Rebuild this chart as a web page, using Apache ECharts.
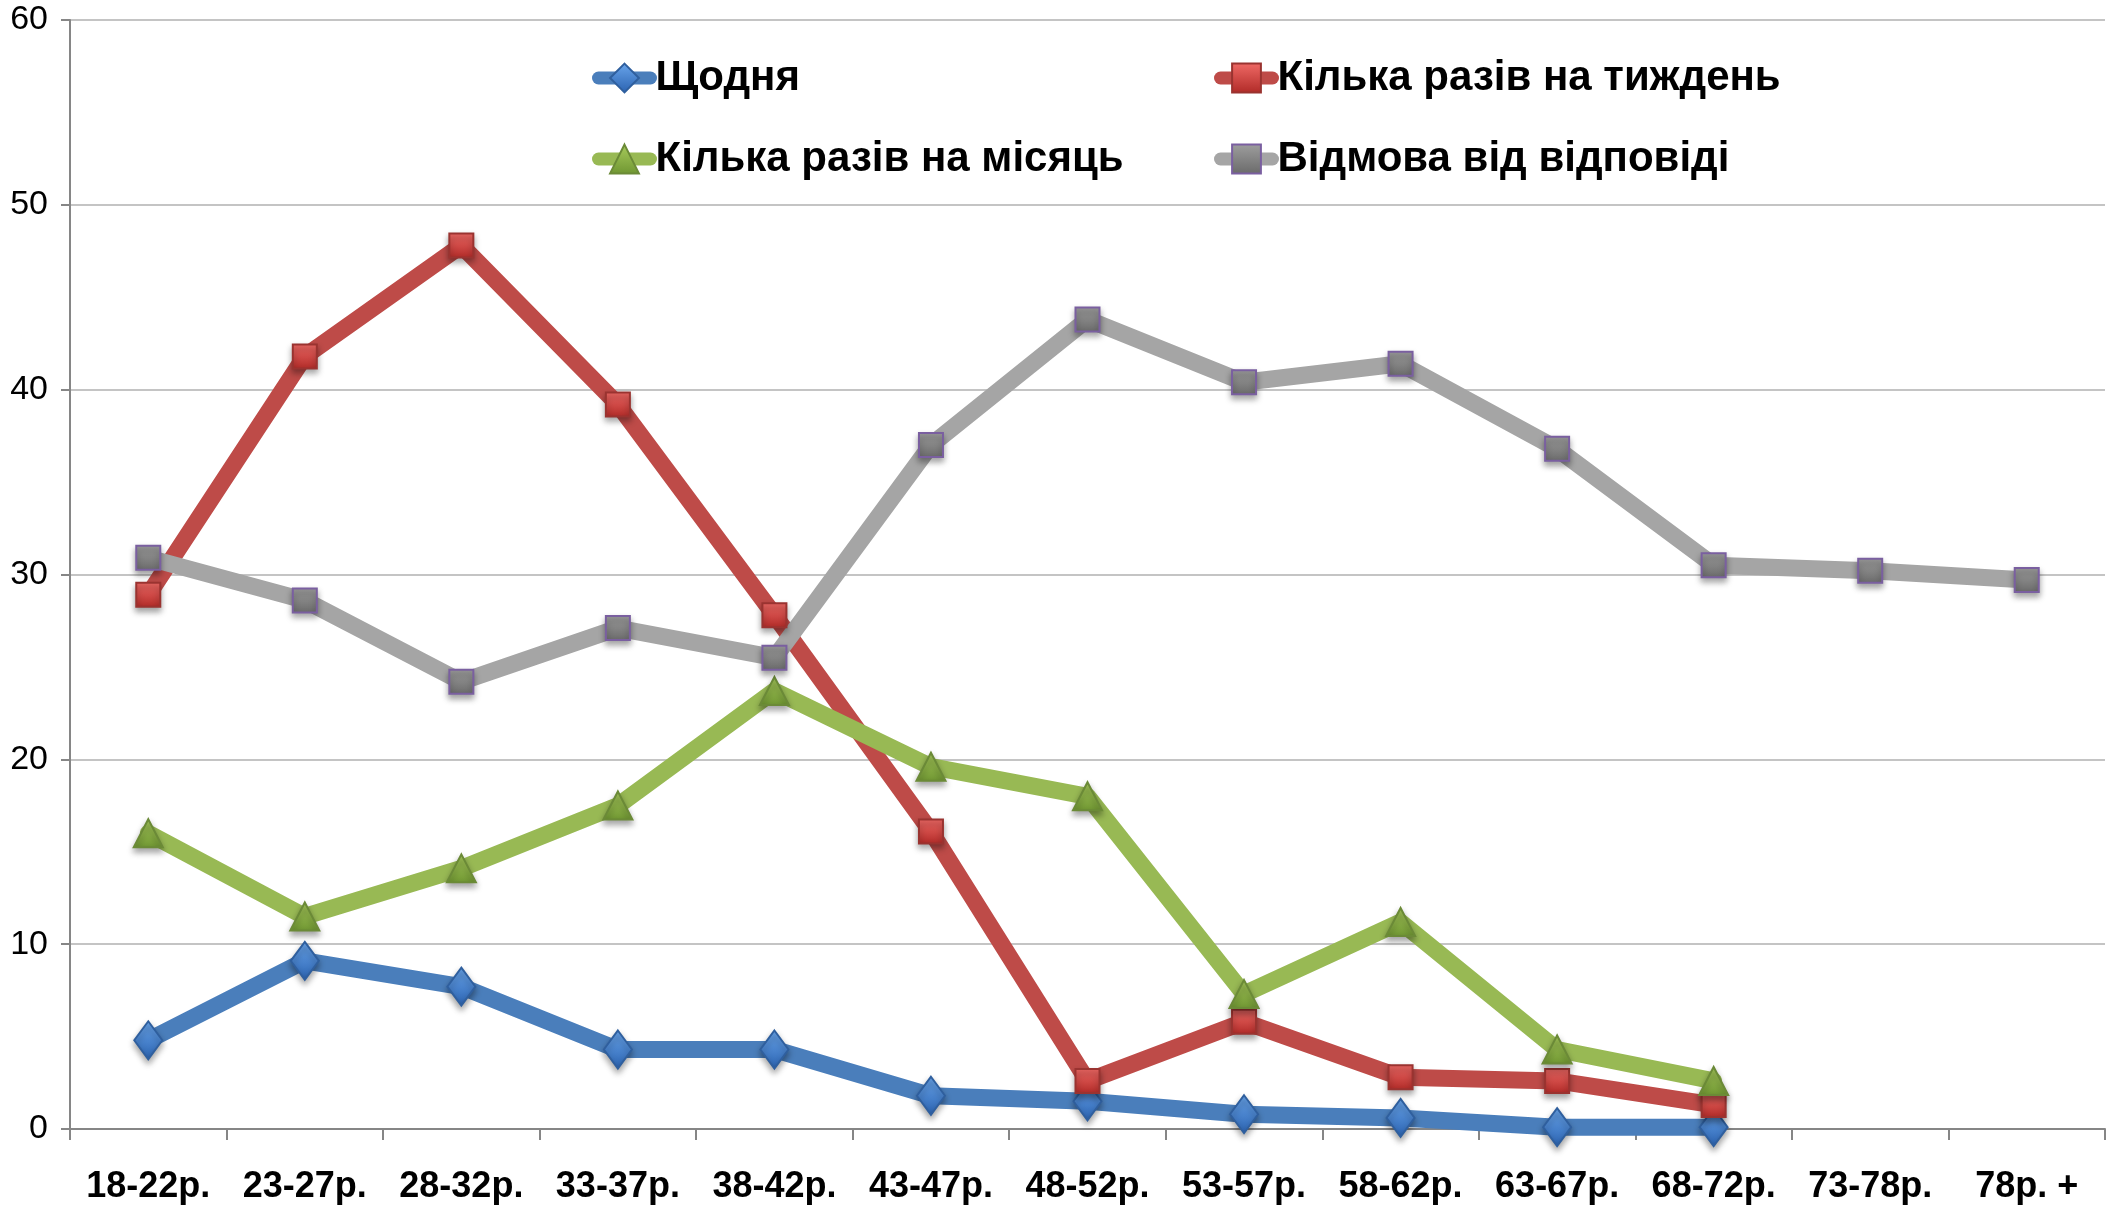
<!DOCTYPE html>
<html lang="uk">
<head>
    <meta charset="UTF-8">
    <title>Частота за віковими групами</title>
    <style>
        html, body {
            margin: 0;
            background: #fff;
        }

        #chart {
            width: 2118px;
            height: 1206px;
        }
    </style>
</head>
<body>
    <div id="chart"></div>

    <script src="https://cdn.jsdelivr.net/npm/echarts@6/dist/echarts.min.js"></script>
    <script>
        // вікові групи
        var ageGroups = ['18-22р.', '23-27р.', '28-32р.', '33-37р.', '38-42р.', '43-47р.',
            '48-52р.', '53-57р.', '58-62р.', '63-67р.', '68-72р.', '73-78р.', '78р. +'];

        var seriesNames = ['Щодня', 'Кілька разів на тиждень', 'Кілька разів на місяць', 'Відмова від відповіді'];

        // значення, %
        var daily   = [4.8, 9.1, 7.7, 4.3, 4.3, 1.8, 1.5, 0.8, 0.6, 0.1, 0.1, null, null];
        var weekly  = [28.9, 41.8, 47.8, 39.2, 27.8, 16.1, 2.6, 5.8, 2.8, 2.6, 1.3, null, null];
        var monthly = [16.0, 11.5, 14.1, 17.5, 23.7, 19.6, 18.0, 7.3, 11.2, 4.3, 2.6, null, null];
        var refused = [30.9, 28.6, 24.2, 27.1, 25.5, 37.0, 43.8, 40.4, 41.4, 36.8, 30.5, 30.2, 29.7];

        var yTicks = [0, 10, 20, 30, 40, 50, 60];

        var FONT = '"Liberation Sans", Arial, sans-serif';

        var myChart = echarts.init(document.getElementById('chart'));

        function grad(top, bottom) {
            return new echarts.graphic.LinearGradient(0, 0, 0, 1, [
                { offset: 0, color: top },
                { offset: 1, color: bottom }
            ]);
        }

        function makeSeries(name, data, lineColor, symbol, size, fill, border) {
            return {
                name: name,
                type: 'line',
                data: data,
                symbol: symbol,
                symbolSize: size,
                showAllSymbol: true,
                connectNulls: false,
                lineStyle: { color: lineColor, width: 17, cap: 'round', join: 'round' },
                itemStyle: {
                    color: fill,
                    borderColor: border,
                    borderWidth: 2,
                    shadowColor: 'rgba(0,0,0,0.35)',
                    shadowBlur: 6,
                    shadowOffsetY: 4
                },
                emphasis: { disabled: true }
            };
        }

        var legendText = {
            fontFamily: FONT,
            fontWeight: 'bold',
            fontSize: 42,
            color: '#000'
        };

        function legendBlock(names, left) {
            return {
                data: names,
                orient: 'vertical',
                left: left,
                top: 52,
                itemWidth: 52,
                itemHeight: 36,
                itemGap: 39,
                textStyle: legendText,
                lineStyle: { width: 13 },
                selectedMode: false
            };
        }

        var option = {
            backgroundColor: '#fff',
            animation: false,
            textStyle: { fontFamily: FONT },
            grid: {
                left: 70,
                right: 13,
                top: 20,
                bottom: 77,
                containLabel: false
            },
            legend: [
                legendBlock([seriesNames[0], seriesNames[2]], 587),
                legendBlock([seriesNames[1], seriesNames[3]], 1209)
            ],
            xAxis: {
                type: 'category',
                data: ageGroups,
                boundaryGap: true,
                axisLine: { lineStyle: { color: '#868686', width: 2 } },
                axisTick: { show: true, length: 11, lineStyle: { color: '#868686', width: 2 } },
                axisLabel: {
                    margin: 40,
                    fontFamily: FONT,
                    fontWeight: 'bold',
                    fontSize: 36,
                    color: '#000',
                    interval: 0
                }
            },
            yAxis: {
                type: 'value',
                min: yTicks[0],
                max: yTicks[yTicks.length - 1],
                interval: 10,
                axisLine: { show: true, lineStyle: { color: '#868686', width: 2 } },
                axisTick: { show: true, length: 9, lineStyle: { color: '#868686', width: 2 } },
                splitLine: { lineStyle: { color: '#c4c4c4', width: 2 } },
                axisLabel: {
                    margin: 22,
                    fontFamily: FONT,
                    fontSize: 34,
                    color: '#000'
                }
            },
            series: [
                makeSeries(seriesNames[0], daily, '#4a7ebb', 'diamond', [28, 38],
                    grad('#6aa6ec', '#2a62b0'), '#2f5f9e'),
                makeSeries(seriesNames[1], weekly, '#be4b48', 'rect', [24, 24],
                    grad('#f06a66', '#b02a27'), '#9a3330'),
                makeSeries(seriesNames[2], monthly, '#98b954', 'triangle', [29, 28],
                    grad('#a9cc5c', '#6f9632'), '#6b8a37'),
                makeSeries(seriesNames[3], refused, '#a5a5a5', 'rect', [24, 24],
                    grad('#9e9e9e', '#6a6a6a'), '#7a5fa0')
            ]
        };

        myChart.setOption(option);
    </script>
</body>
</html>
